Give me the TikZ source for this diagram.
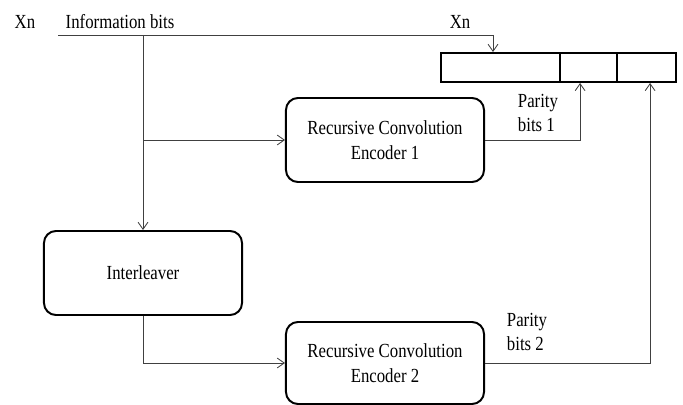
\documentclass[tikz,border=0pt]{standalone}
\usepackage{fontspec}
\setmainfont{Liberation Serif}[FakeStretch=0.84]
\usetikzlibrary{arrows.meta}
\tikzset{
	block/.style={draw, line width=1.4pt, rounded corners=0.3cm, minimum width=4.95cm, minimum height=2.1cm, align=center, font=\fontsize{14.2}{17}\selectfont},
	cell/.style={draw, line width=1.4pt, minimum height=0.725cm, inner sep=0pt},
	conn/.style={draw=black!75, line width=0.6pt},
	arr/.style={conn, -{Straight Barb[length=5pt,width=7pt]}},
	lbl/.style={font=\fontsize{14.2}{17}\selectfont, align=left}
}
\begin{document}
\begin{tikzpicture}[x=0.025cm,y=-0.025cm]
	\useasboundingbox (0,0) rectangle (683,405);
	% labels on top
	\node[lbl] (xin) at (25,22) {Xn};
	\node[lbl] (info) at (120,22) {Information bits};
	\node[lbl] (xout) at (460,22) {Xn};
	% output register
	\node[cell, minimum width=2.975cm] (reg1) at (500.5,67.5) {};
	\node[cell, minimum width=1.425cm] (reg2) at (588.5,67.5) {};
	\node[cell, minimum width=1.475cm] (reg3) at (646.5,67.5) {};
	% blocks
	\node[block] (enc1) at (385,140) {Recursive Convolution\\[1pt]Encoder 1};
	\node[block] (inter) at (143,273) {Interleaver};
	\node[block, minimum height=2.05cm] (enc2) at (385,363) {Recursive Convolution\\[1pt]Encoder 2};
	\node[lbl] (par1) at (538,113) {Parity\\bits 1};
	\node[lbl] (par2) at (527,332) {Parity\\bits 2};
	% connectors
	\coordinate (start) at (58,35);
	\coordinate (split) at (143,35);
	\coordinate (bend) at (493,35);
	\draw[conn] (start) -- (bend);
	\draw[arr] (bend) -- (bend |- reg1.north);
	\draw[arr] (split) -- (inter.north);
	\draw[arr] (split |- enc1.west) -- (enc1.west);
	\draw[arr] (enc1.east) -| ([xshift=-0.21cm]reg2.south);
	\draw[arr] (inter.south) |- (enc2.west);
	\draw[arr] (enc2.east) -| ([xshift=0.09cm]reg3.south);
\end{tikzpicture}
\end{document}
